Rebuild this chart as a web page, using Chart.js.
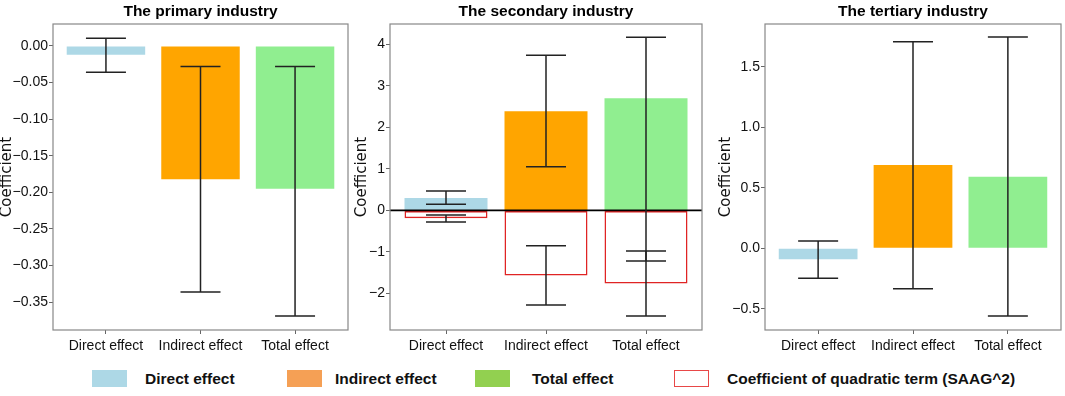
<!DOCTYPE html>
<html>
<head>
<meta charset="utf-8">
<script src="https://cdn.jsdelivr.net/npm/chart.js@4.4.1/dist/chart.umd.min.js"></script>
<style>
  html, body { margin: 0; padding: 0; background: #fff; }
  #wrap { position: relative; width: 1065px; height: 396px; overflow: hidden; }
  canvas { position: absolute; top: 0; }
  .leg-box { position: absolute; top: 370px; width: 35px; height: 17px; box-sizing: border-box; }
  .leg-text { position: absolute; top: 369px; font: bold 15.5px "Liberation Sans", Arial, sans-serif; color: #111; line-height: 19px; white-space: nowrap; }
</style>
</head>
<body>
<div id="wrap">
  <div style="position:absolute;left:0;top:0;width:352px;height:360px"><canvas id="c1"></canvas></div>
  <div style="position:absolute;left:352px;top:0;width:354px;height:360px"><canvas id="c2"></canvas></div>
  <div style="position:absolute;left:708px;top:0;width:357px;height:360px"><canvas id="c3"></canvas></div>

  <div class="leg-box" style="left:92px;background:#add8e6"></div>
  <div class="leg-text" style="left:145px">Direct effect</div>
  <div class="leg-box" style="left:287px;background:#f5a055"></div>
  <div class="leg-text" style="left:335px">Indirect effect</div>
  <div class="leg-box" style="left:475px;background:#92d050"></div>
  <div class="leg-text" style="left:532px">Total effect</div>
  <div class="leg-box" style="left:674px;border:1px solid #e84848;background:#fff"></div>
  <div class="leg-text" style="left:727px">Coefficient of quadratic term (SAAG^2)</div>
</div>
<script>
const categories = ['Direct effect', 'Indirect effect', 'Total effect'];
const barColors = ['#add8e6', '#ffa500', '#90ee90'];

// primary industry
const primaryEffect = [-0.012, -0.182, -0.195];
const primaryLow = [-0.036, -0.336, -0.369];
const primaryHigh = [0.0105, -0.028, -0.028];
const primaryTicks = [0, -0.05, -0.10, -0.15, -0.20, -0.25, -0.30, -0.35];

// secondary industry
const secondaryEffect = [0.30, 2.39, 2.70];
const secondaryLow = [0.15, 1.05, -1.22];
const secondaryHigh = [0.47, 3.74, 4.17];
const secondaryQuad = [-0.19, -1.57, -1.76];
const secondaryQuadLow = [-0.28, -2.28, -2.54];
const secondaryQuadHigh = [-0.11, -0.85, -0.98];
const secondaryTicks = [-2, -1, 0, 1, 2, 3, 4];

// tertiary industry
const tertiaryEffect = [-0.091, 0.688, 0.592];
const tertiaryLow = [-0.248, -0.334, -0.56];
const tertiaryHigh = [0.06, 1.707, 1.746];
const tertiaryTicks = [-0.5, 0, 0.5, 1.0, 1.5];

const tickFont = { family: '"Liberation Sans", Arial, sans-serif', size: 14 };

function fmt(v, dec) {
    return v.toFixed(dec).replace('-', '\u2212');
}

// frame around the plot area, like matplotlib spines
const framePlugin = {
    id: 'frame',
    afterDraw(chart) {
        const a = chart.chartArea;
        const ctx = chart.ctx;
        ctx.save();
        ctx.strokeStyle = '#888';
        ctx.lineWidth = 1.2;
        ctx.strokeRect(a.left, a.top, a.right - a.left, a.bottom - a.top);
        ctx.restore();
    }
};

function zeroLinePlugin() {
    return {
        id: 'zeroLine',
        afterDatasetsDraw(chart) {
            const y = chart.scales.y.getPixelForValue(0);
            const ctx = chart.ctx;
            ctx.save();
            ctx.strokeStyle = '#000';
            ctx.lineWidth = 1.6;
            ctx.beginPath();
            ctx.moveTo(chart.chartArea.left, y);
            ctx.lineTo(chart.chartArea.right, y);
            ctx.stroke();
            ctx.restore();
        }
    };
}

function errorBarPlugin(sets) {
    return {
        id: 'errorBars',
        afterDatasetsDraw(chart) {
            const ctx = chart.ctx;
            const xs = chart.scales.x, ys = chart.scales.y;
            ctx.save();
            ctx.strokeStyle = '#222';
            ctx.lineWidth = 1.5;
            sets.forEach(s => {
                s.low.forEach((lo, i) => {
                    const x = xs.getPixelForValue(i);
                    const yl = ys.getPixelForValue(lo);
                    const yh = ys.getPixelForValue(s.high[i]);
                    ctx.beginPath();
                    ctx.moveTo(x, yl); ctx.lineTo(x, yh);
                    ctx.moveTo(x - 20, yl); ctx.lineTo(x + 20, yl);
                    ctx.moveTo(x - 20, yh); ctx.lineTo(x + 20, yh);
                    ctx.stroke();
                });
            });
            ctx.restore();
        }
    };
}

function makeChart(id, opts) {
    const datasets = [{
        data: opts.values.map((v, i) => ({ x: i, y: v })),
        backgroundColor: barColors,
        borderWidth: 0,
        barPercentage: 0.83,
        categoryPercentage: 1,
        grouped: false
    }];
    if (opts.quad) {
        datasets.push({
            data: opts.quad.map((v, i) => ({ x: i, y: v })),
            backgroundColor: 'rgba(0,0,0,0)',
            borderColor: '#e02424',
            borderWidth: 1.5,
            borderSkipped: false,
            barPercentage: 0.83,
            categoryPercentage: 1,
            grouped: false
        });
    }
    const plugins = [framePlugin, errorBarPlugin(opts.errors)];
    if (opts.zeroLine) plugins.unshift(zeroLinePlugin());

    return new Chart(document.getElementById(id), {
        type: 'bar',
        data: { datasets },
        plugins,
        options: {
            responsive: true,
            maintainAspectRatio: false,
            animation: false,
            layout: { padding: { left: 0, right: 4, top: 0, bottom: 0 } },
            plugins: {
                legend: { display: false },
                tooltip: { enabled: false },
                title: {
                    display: true,
                    fullSize: false,
                    text: opts.title,
                    color: '#000',
                    font: { family: '"Liberation Sans", Arial, sans-serif', size: 15.5, weight: 'bold', lineHeight: 1.2 },
                    padding: { top: 2, bottom: 3.4 }
                }
            },
            scales: {
                x: {
                    type: 'linear',
                    min: -0.56,
                    max: 2.56,
                    offset: false,
                    afterBuildTicks: s => { s.ticks = categories.map((c, i) => ({ value: i })); },
                    afterFit: s => { s.height = 30; },
                    grid: { drawOnChartArea: false, drawTicks: true, tickLength: 4, color: '#666', offset: false },
                    border: { display: false },
                    ticks: {
                        color: '#111',
                        font: tickFont,
                        padding: 4,
                        maxRotation: 0,
                        callback: v => categories[v]
                    }
                },
                y: {
                    min: opts.yMin,
                    max: opts.yMax,
                    afterBuildTicks: s => { s.ticks = opts.ticks.map(v => ({ value: v })); },
                    afterFit: s => { s.width = opts.yWidth; },
                    grid: { drawOnChartArea: false, drawTicks: true, tickLength: 4, color: '#666' },
                    border: { display: false },
                    ticks: {
                        color: '#111',
                        font: tickFont,
                        padding: 1,
                        callback: v => fmt(v, opts.decimals)
                    },
                    title: {
                        display: true,
                        text: 'Coefficient',
                        color: '#111',
                        font: { family: '"DejaVu Sans", sans-serif', size: 15, lineHeight: 1 },
                        padding: { top: opts.titlePad, bottom: 0 }
                    }
                }
            }
        }
    });
}

makeChart('c1', {
    title: 'The primary industry',
    values: primaryEffect,
    errors: [{ low: primaryLow, high: primaryHigh }],
    ticks: primaryTicks,
    yMin: -0.388, yMax: 0.030,
    decimals: 2,
    yWidth: 53,
    titlePad: -0.5
});

makeChart('c2', {
    title: 'The secondary industry',
    values: secondaryEffect,
    quad: secondaryQuad,
    errors: [
        { low: secondaryLow, high: secondaryHigh },
        { low: secondaryQuadLow, high: secondaryQuadHigh }
    ],
    ticks: secondaryTicks,
    yMin: -2.88, yMax: 4.49,
    decimals: 0,
    yWidth: 38,
    titlePad: 2.5,
    zeroLine: true
});

makeChart('c3', {
    title: 'The tertiary industry',
    values: tertiaryEffect,
    errors: [{ low: tertiaryLow, high: tertiaryHigh }],
    ticks: tertiaryTicks,
    yMin: -0.675, yMax: 1.853,
    decimals: 1,
    yWidth: 57,
    titlePad: 10.5
});
</script>
</body>
</html>
